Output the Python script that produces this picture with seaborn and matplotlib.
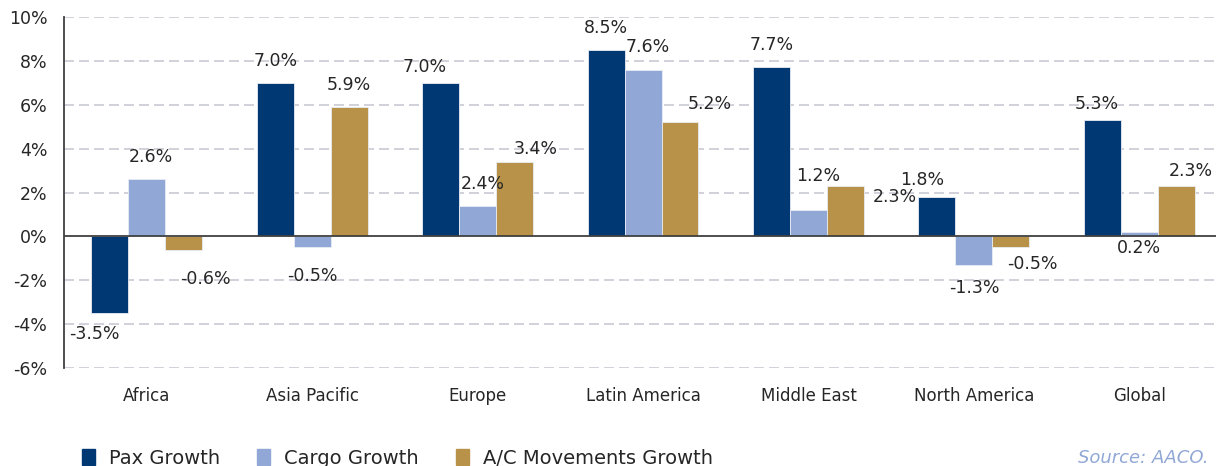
import numpy as np
import pandas as pd
import matplotlib
matplotlib.use("Agg")
import matplotlib.pyplot as plt
import seaborn as sns

# data
regions = ["Africa", "Asia Pacific", "Europe", "Latin America", "Middle East", "North America", "Global"]
series = ["Pax Growth", "Cargo Growth", "A/C Movements Growth"]
pax_growth = [-3.5, 7.0, 7.0, 8.5, 7.7, 1.8, 5.3]
cargo_growth = [2.6, -0.5, 1.4, 7.6, 1.2, -1.3, 0.2]
ac_growth = [-0.6, 5.9, 3.4, 5.2, 2.3, -0.5, 2.3]
# label texts as printed (Europe cargo label reads 2.4% in the source)
pax_labels = ["-3.5%", "7.0%", "7.0%", "8.5%", "7.7%", "1.8%", "5.3%"]
cargo_labels = ["2.6%", "-0.5%", "2.4%", "7.6%", "1.2%", "-1.3%", "0.2%"]
ac_labels = ["-0.6%", "5.9%", "3.4%", "5.2%", "2.3%", "-0.5%", "2.3%"]
y_ticks = [-6, -4, -2, 0, 2, 4, 6, 8, 10]

colors = ["#003873", "#91A8D6", "#B89248"]

df = pd.DataFrame({
    "region": regions * 3,
    "series": [s for s in series for _ in regions],
    "value": pax_growth + cargo_growth + ac_growth,
})
labels = [pax_labels, cargo_labels, ac_labels]

# label placement (pixel offsets from bar end), mimicking the hand-moved excel labels
offsets = [
    [(-15, -21), (0, 22), (-16, 16), (0, 22), (0, 22), (-15, 17), (-6, 16)],
    [(4, 22), (0, -29), (5, 22), (5, 23), (10, 34), (0, -23), (0, -16)],
    [(22, -29), (0, 22), (21, 13), (30, 18), (49, -11), (22, -17), (15, 15)],
]

sns.set_style("white")
plt.rcParams["font.family"] = ["DejaVu Sans"]
text_color = "#262626"

fig = plt.figure(figsize=(12.16, 4.66), dpi=100)
ax = fig.add_axes([64 / 1216, 1 - 368 / 466, 1 - 64 / 1216 + 0.005, (368 - 17) / 466])

sns.barplot(data=df, x="region", y="value", hue="series", palette=colors, saturation=1,
            width=0.67, ax=ax, edgecolor="#E8ECF4", linewidth=0.6, legend=False)

ax.set_ylim(-6, 10)
ax.set_xlim(-0.5, 6.5)
ax.set_yticks(y_ticks)
ax.set_yticklabels([f"{t}%" for t in y_ticks])
ax.set_xlabel("")
ax.set_ylabel("")
ax.tick_params(axis="y", length=0, pad=12, labelsize=12.5, colors=text_color)
ax.tick_params(axis="x", length=0, pad=14, labelsize=12, colors=text_color)

for t in y_ticks:
    if t != 0:
        ax.axhline(t, color="#C9CBD3", lw=1.2, ls=(0, (6, 3)), zorder=0)
ax.axhline(0, color="#404040", lw=1.3, zorder=3)

for s in ["top", "right", "bottom"]:
    ax.spines[s].set_visible(False)
ax.spines["left"].set_color("#404040")
ax.spines["left"].set_linewidth(1.3)

for i, cont in enumerate(ax.containers):
    for j, bar in enumerate(cont):
        x = bar.get_x() + bar.get_width() / 2
        y = bar.get_y() + bar.get_height()
        dx, dy = offsets[i][j]
        ax.annotate(labels[i][j], xy=(x, y), xytext=(dx, dy), textcoords="offset pixels",
                    ha="center", va="center", fontsize=12.5, color=text_color)

handles = [plt.Rectangle((0, 0), 1, 1, color=c) for c in colors]
fig.legend(handles, series, loc="center left", bbox_to_anchor=(64 / 1216, 1 - 458 / 466),
           ncol=3, frameon=False, fontsize=14, handlelength=0.7, handleheight=0.9,
           handletextpad=0.7, columnspacing=1.9, labelcolor=text_color)

fig.text(1209 / 1216, 1 - 458 / 466, "Source: AACO.", ha="right", va="center",
         fontsize=13, style="italic", color="#91A8D6")

fig.savefig("out.png", dpi=100)
